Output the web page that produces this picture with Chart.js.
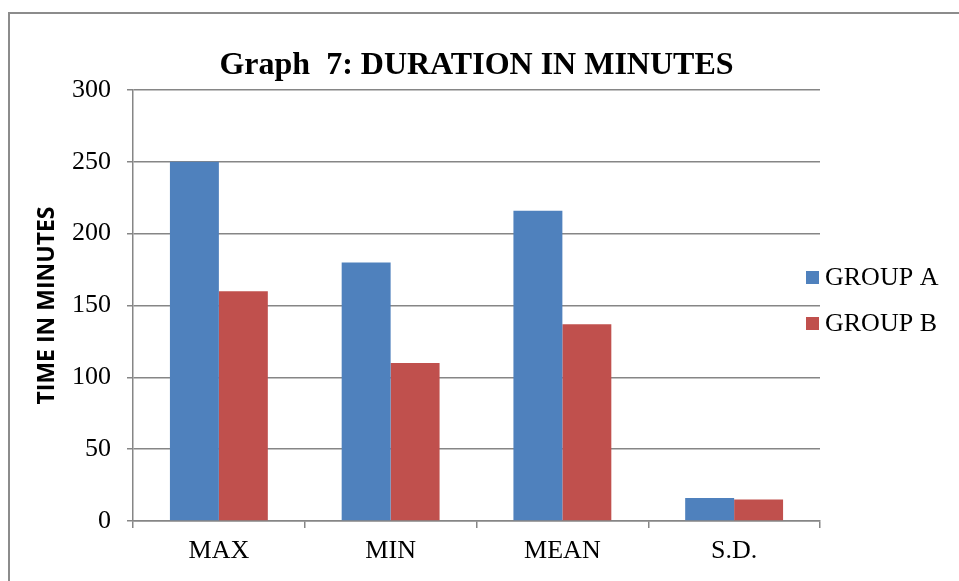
<!DOCTYPE html>
<html>
<head>
<meta charset="utf-8">
<script src="https://cdn.jsdelivr.net/npm/chart.js@4"></script>
<style>
  body { margin: 0; background: #fff; overflow: hidden; }
  #frame { position: absolute; left: 8px; top: 12px; width: 1000px; height: 1000px; border: 2px solid #8c8c8c; }
  #myChart { position: absolute; left: 0; top: 0; }
</style>
</head>
<body>
<div id="frame"></div>
<canvas id="myChart" width="959" height="581"></canvas>
<script>
const categories = ["MAX", "MIN", "MEAN", "S.D."];
const groupA = [250, 180, 216, 16];
const groupB = [160, 110, 137, 15];
const seriesNames = ["GROUP A", "GROUP B"];
const yTicks = [0, 50, 100, 150, 200, 250, 300];

const gridColor = "#868686";
const serif = "'Liberation Serif', 'Times New Roman', serif";

// title centred over the plot area
const titlePlugin = {
  id: "plotTitle",
  afterDraw(chart) {
    const ctx = chart.ctx;
    const a = chart.chartArea;
    ctx.save();
    ctx.font = "bold 32px " + serif;
    ctx.fillStyle = "#000";
    ctx.textAlign = "center";
    ctx.textBaseline = "alphabetic";
    ctx.fillText("Graph  7: DURATION IN MINUTES", (a.left + a.right) / 2, 74);
    ctx.restore();
  }
};

// legend drawn next to the right end of the plot
const legendPlugin = {
  id: "sideLegend",
  afterDraw(chart) {
    const ctx = chart.ctx;
    const a = chart.chartArea;
    const mid = (a.top + a.bottom) / 2 - 5;
    ctx.save();
    ctx.font = "26px " + serif;
    ctx.textBaseline = "middle";
    chart.data.datasets.forEach((ds, i) => {
      const cy = mid + (i === 0 ? -23 : 23);
      ctx.fillStyle = ds.backgroundColor;
      ctx.fillRect(a.right - 14, cy - 6.5, 13, 13);
      ctx.fillStyle = "#000";
      ctx.fillText(ds.label, a.right + 5, cy + 1);
    });
    ctx.restore();
  }
};

const ctx = document.getElementById("myChart").getContext("2d");
new Chart(ctx, {
  type: "bar",
  data: {
    labels: categories,
    datasets: [
      { label: seriesNames[0], data: groupA, backgroundColor: "#4F81BD" },
      { label: seriesNames[1], data: groupB, backgroundColor: "#C0504D" }
    ]
  },
  options: {
    responsive: false,
    animation: false,
    layout: { padding: { top: 90, left: 10, right: 139, bottom: 0 } },
    datasets: { bar: { categoryPercentage: 0.57, barPercentage: 1.0 } },
    plugins: {
      legend: { display: false },
      title: { display: false },
      tooltip: { enabled: false }
    },
    scales: {
      x: {
        grid: { drawOnChartArea: false, drawTicks: true, tickLength: 7, color: gridColor, lineWidth: 1.5 },
        border: { color: gridColor, width: 1.5 },
        ticks: { color: "#000", font: { family: serif, size: 26 }, padding: 8 },
        afterFit(scale) { scale.height = 60; }
      },
      y: {
        min: 0,
        max: 300,
        afterBuildTicks(scale) { scale.ticks = yTicks.map(v => ({ value: v })); },
        grid: { color: gridColor, lineWidth: 1.5, tickLength: 6 },
        border: { color: gridColor, width: 1.5 },
        ticks: { color: "#000", font: { family: serif, size: 26 }, padding: 16 },
        title: {
          display: true,
          text: "TIME IN MINUTES",
          color: "#000",
          font: { family: "'Open Sans', sans-serif", size: 23, weight: "bold" },
          padding: { top: 24, bottom: 0 }
        },
        afterFit(scale) { scale.width = 123; }
      }
    }
  },
  plugins: [titlePlugin, legendPlugin]
});
</script>
</body>
</html>
